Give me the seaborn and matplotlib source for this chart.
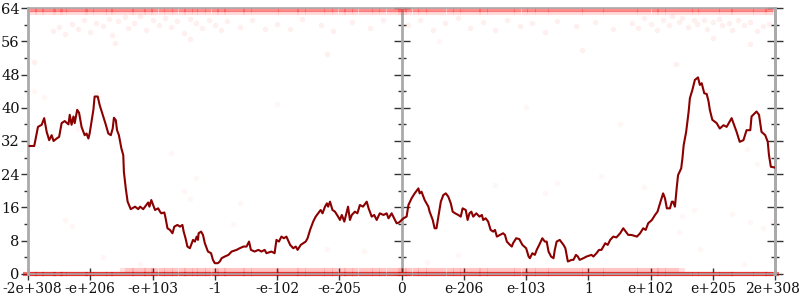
import numpy as np
import pandas as pd
import matplotlib
matplotlib.use("Agg")
import matplotlib.pyplot as plt
import matplotlib.transforms as mtransforms
from matplotlib.ticker import MultipleLocator
import seaborn as sns

# ---------------- data ----------------
tick_pos = [-6, -5, -4, -3, -2, -1, 0, 1, 2, 3, 4, 5, 6]
tick_labels = ["-2e+308", "-e+206", "-e+103", "-1", "-e-102", "-e-205", "0",
               "e-206", "e-103", "1", "e+102", "e+205", "2e+308"]

line_x = [-5.98, -5.90, -5.84, -5.78, -5.74, -5.70, -5.66, -5.62, -5.59, -5.54, -5.50, -5.46,
          -5.41, -5.35, -5.33, -5.30, -5.27, -5.25, -5.21, -5.18, -5.14, -5.09, -5.06, -5.03,
          -5.01, -4.95, -4.93, -4.88, -4.85, -4.80, -4.75, -4.71, -4.67, -4.64, -4.62, -4.59,
          -4.57, -4.54, -4.50, -4.47, -4.46, -4.43, -4.40, -4.35, -4.28, -4.23, -4.20, -4.15,
          -4.07, -4.05, -4.02, -3.99, -3.96, -3.91, -3.88, -3.86, -3.81, -3.79, -3.76, -3.72,
          -3.68, -3.65, -3.60, -3.56, -3.52, -3.50, -3.47, -3.44, -3.40, -3.37, -3.35, -3.32,
          -3.29, -3.27, -3.26, -3.22, -3.19, -3.16, -3.11, -3.06, -3.03, -3.00, -2.95, -2.92,
          -2.89, -2.84, -2.78, -2.73, -2.65, -2.60, -2.54, -2.49, -2.45, -2.42, -2.36, -2.30,
          -2.25, -2.20, -2.17, -2.09, -2.04, -2.01, -1.97, -1.93, -1.89, -1.85, -1.79, -1.74,
          -1.70, -1.67, -1.62, -1.58, -1.54, -1.51, -1.47, -1.45, -1.42, -1.38, -1.34, -1.30,
          -1.27, -1.23, -1.20, -1.18, -1.15, -1.11, -1.07, -1.02, -0.99, -0.96, -0.92, -0.88,
          -0.86, -0.83, -0.80, -0.75, -0.71, -0.67, -0.62, -0.56, -0.53, -0.48, -0.44, -0.40,
          -0.35, -0.29, -0.24, -0.21, -0.16, -0.08, -0.04, 0.03, 0.08, 0.11, 0.16, 0.21,
          0.27, 0.29, 0.32, 0.37, 0.43, 0.45, 0.50, 0.53, 0.56, 0.59, 0.63, 0.67,
          0.71, 0.75, 0.79, 0.82, 0.86, 0.91, 0.95, 0.98, 1.03, 1.06, 1.09, 1.12,
          1.15, 1.20, 1.25, 1.29, 1.31, 1.35, 1.39, 1.43, 1.47, 1.50, 1.53, 1.58,
          1.63, 1.66, 1.69, 1.74, 1.77, 1.79, 1.84, 1.89, 1.94, 2.00, 2.04, 2.06,
          2.10, 2.14, 2.17, 2.21, 2.26, 2.30, 2.33, 2.36, 2.40, 2.44, 2.46, 2.49,
          2.54, 2.60, 2.63, 2.67, 2.73, 2.76, 2.80, 2.83, 2.86, 2.92, 2.97, 3.05,
          3.08, 3.13, 3.17, 3.21, 3.27, 3.31, 3.35, 3.40, 3.45, 3.51, 3.56, 3.60,
          3.64, 3.69, 3.78, 3.83, 3.88, 3.92, 3.96, 4.02, 4.07, 4.11, 4.15, 4.20,
          4.23, 4.26, 4.31, 4.34, 4.36, 4.39, 4.42, 4.44, 4.49, 4.51, 4.53, 4.57,
          4.61, 4.63, 4.67, 4.71, 4.76, 4.79, 4.82, 4.86, 4.90, 4.93, 4.95, 4.99,
          5.06, 5.11, 5.17, 5.22, 5.30, 5.35, 5.38, 5.43, 5.49, 5.54, 5.60, 5.62,
          5.70, 5.74, 5.78, 5.84, 5.88, 5.90, 5.93, 6.00]
line_y = [30.8, 30.8, 35.4, 35.9, 37.5, 34.2, 32.2, 33.4, 32.0, 32.6, 33.0, 36.3,
          36.8, 36.0, 38.3, 35.9, 37.9, 36.3, 39.5, 38.8, 35.4, 33.4, 33.8, 32.6,
          33.8, 39.5, 42.7, 42.7, 40.7, 38.3, 35.9, 33.8, 33.4, 35.0, 37.6, 37.0,
          34.6, 33.4, 30.2, 28.6, 24.6, 20.6, 17.4, 15.6, 16.2, 15.6, 16.2, 15.6,
          17.2, 16.2, 17.8, 16.6, 15.4, 15.8, 15.0, 14.6, 14.8, 13.4, 11.0, 10.6,
          9.8, 11.4, 11.8, 11.4, 11.8, 10.2, 8.6, 6.6, 6.2, 7.4, 8.2, 7.8,
          9.0, 8.2, 9.8, 10.2, 9.4, 7.4, 5.4, 5.0, 3.4, 2.6, 2.6, 3.0,
          3.8, 4.2, 4.6, 5.4, 5.8, 6.2, 6.6, 6.6, 7.8, 5.8, 5.4, 5.8,
          5.4, 5.8, 5.0, 5.4, 5.0, 8.2, 7.8, 9.0, 8.6, 9.0, 7.0, 6.2,
          6.6, 5.8, 7.0, 7.4, 7.8, 8.6, 10.6, 11.4, 12.6, 13.8, 14.6, 15.4,
          14.6, 16.2, 17.0, 16.2, 17.4, 15.4, 15.0, 13.8, 13.0, 14.2, 12.6, 15.0,
          16.2, 13.0, 14.2, 15.0, 14.6, 16.6, 16.2, 17.4, 15.8, 13.8, 14.2, 13.0,
          14.6, 14.2, 14.6, 13.4, 14.6, 12.2, 12.4, 13.4, 13.8, 16.6, 18.2, 19.4,
          20.6, 19.4, 19.8, 17.8, 16.2, 15.0, 13.0, 11.0, 11.0, 13.8, 17.4, 19.0,
          19.4, 18.6, 17.0, 15.0, 14.6, 14.2, 13.8, 15.8, 15.4, 13.0, 14.6, 15.0,
          13.8, 14.6, 13.8, 14.2, 13.0, 13.4, 12.6, 10.6, 10.2, 10.6, 9.0, 9.4,
          9.8, 9.4, 7.8, 7.0, 6.6, 7.4, 8.6, 8.4, 7.0, 6.2, 4.2, 3.8,
          5.0, 4.6, 5.8, 7.0, 8.6, 7.8, 7.8, 5.4, 4.2, 3.8, 5.8, 7.8,
          8.2, 7.0, 6.2, 3.0, 3.4, 3.4, 4.6, 4.2, 3.4, 3.8, 4.2, 4.6,
          4.2, 5.0, 5.8, 5.8, 7.4, 7.0, 8.2, 9.0, 8.8, 9.8, 11.0, 10.2,
          9.4, 9.4, 9.0, 9.8, 11.0, 10.6, 12.2, 13.0, 14.2, 15.0, 17.0, 19.4,
          18.2, 15.8, 15.8, 17.4, 17.4, 16.2, 21.0, 23.8, 25.4, 27.8, 31.0, 34.2,
          39.1, 42.3, 44.3, 46.7, 47.3, 45.5, 45.9, 43.5, 43.3, 41.5, 39.5, 37.1,
          36.3, 35.0, 35.8, 35.4, 37.5, 35.4, 34.2, 31.8, 32.2, 34.6, 34.6, 37.9,
          39.1, 38.3, 34.2, 33.4, 31.8, 28.6, 25.8, 25.6]

# dense bands of samples (x positions)
band_x = [-5.97, -5.85, -5.78, -5.66, -5.55, -5.49, -5.37, -5.28, -5.15, -5.06, -4.97, -4.84,
          -4.75, -4.63, -4.55, -4.41, -4.33, -4.22, -4.10, -4.02, -3.91, -3.79, -3.70, -3.58,
          -3.47, -3.39, -3.26, -3.18, -3.05, -2.93, -2.86, -2.74, -2.62, -2.51, -2.43, -2.30,
          -2.21, -2.08, -1.99, -1.87, -1.76, -1.65, -1.57, -1.44, -1.35, -1.22, -1.13, -1.01,
          -0.90, -0.81, -0.68, -0.57, -0.46, -0.37, -0.25, -0.12, -0.03, 0.06, 0.17, 0.29,
          0.38, 0.51, 0.60, 0.73, 0.84, 0.93, 1.05, 1.16, 1.27, 1.36, 1.49, 1.58,
          1.71, 1.80, 1.92, 2.04, 2.13, 2.26, 2.35, 2.47, 2.58, 2.69, 2.80, 2.92,
          3.01, 3.14, 3.23, 3.35, 3.46, 3.57, 3.68, 3.79, 3.90, 4.02, 4.13, 4.22,
          4.35, 4.44, 4.56, 4.67, 4.78, 4.87, 5.00, 5.09, 5.21, 5.32, 5.41, 5.54,
          5.63, 5.75, 5.86, 5.95]
band_top = 63.5
band_top2 = 62.9
band_bottom = 0.0
band_low = 1.0
band_low_range = (-4.5, 4.5)

# cloud near the top
cloud_x = [-5.6, -5.5, -5.4, -5.3, -5.2, -5.1, -5.0, -4.9, -4.8, -4.7, -4.65, -4.55, -4.45, -4.4,
           -4.3, -4.2, -4.1, -4.0, -3.9, -3.8, -3.7, -3.6, -3.5, -3.4, -3.3, -3.2, -3.1, -3.0,
           -2.9, -2.8, -2.6, -2.4, -2.2, -2.0, -1.8, -1.6, -1.3, -1.1, -0.8, -0.5, -0.3,
           0.1, 0.3, 0.5, 0.7, 0.9, 1.1, 1.3, 1.5, 1.7, 1.9, 2.1, 2.3, 2.5, 2.8, 3.1, 3.4,
           3.7, 3.8, 3.9, 4.0, 4.1, 4.2, 4.3, 4.35, 4.45, 4.5, 4.6, 4.7, 4.75, 4.85, 4.9,
           5.0, 5.1, 5.15, 5.25, 5.3, 5.4, 5.5, 5.6, 5.7, 5.8, 5.9,
           -5.9, -4.6, -3.4, 2.9, 5.0, 5.6, 4.4, -1.2]
cloud_y = [58.5, 59.5, 57.8, 60.2, 59.0, 61.0, 58.2, 60.5, 59.6, 61.3, 57.5, 60.8, 61.8, 59.2,
           60.4, 62.0, 58.7, 61.2, 60.0, 61.7, 59.5, 60.9, 58.0, 61.4, 60.3, 59.1, 61.0, 60.0,
           58.6, 60.8, 59.4, 61.0, 58.9, 60.2, 59.0, 61.3, 60.0, 58.5, 60.6, 59.3, 61.2,
           59.8, 61.0, 58.6, 60.3, 61.5, 59.2, 60.7, 58.8, 61.0, 59.6, 60.4, 58.3, 60.9, 59.7, 60.6, 59.0,
           60.5, 59.2, 61.5, 60.1, 58.7, 61.0, 59.8, 62.0, 60.6, 61.5, 59.4, 61.2, 60.2, 61.0, 59.0,
           60.6, 61.4, 59.8, 60.5, 58.6, 61.0, 59.9, 60.7, 58.4, 59.6, 60.2,
           51.0, 55.5, 56.5, 54.0, 56.8, 55.3, 50.5, 53.0]

# sparse samples in the middle
sparse_x = [-5.9, -5.75, -4.9, -5.2, -3.7, -3.3, -3.5, -5.4, -5.3, -4.2, -4.8, -3.4, -2.6, -2.7,
            -1.3, -1.2, -0.6, -0.3, 0.4, 0.9, 1.5, 2.3, 2.5, 3.2, 3.9, 4.45, 4.5, 4.7, 5.3,
            5.6, 5.8, 4.8, 5.5, 5.95, 3.5, 5.7, 4.9, 5.55, 2.0, -2.0, 0.6]
sparse_y = [44.0, 42.5, 43.5, 35.0, 29.0, 23.0, 20.0, 13.0, 11.5, 2.5, 4.2, 18.0, 17.0, 12.0,
            16.5, 6.0, 5.5, 14.5, 3.0, 4.5, 21.5, 19.5, 22.0, 23.5, 21.0, 10.0, 14.0, 15.5, 14.5,
            12.6, 11.0, 6.0, 2.5, 12.5, 36.0, 26.5, 44.0, 30.0, 40.2, 40.8, 56.0]

# ---------------- plotting ----------------
sns.set_theme(style="white")
plt.rcParams["font.family"] = ["DejaVu Serif"]

fig = plt.figure(figsize=(8, 3), dpi=100)
ax = fig.add_axes([0.035, 0.0867, 0.934, 0.8866])

red = "#ff0000"
bx = np.array(band_x)
low_mask = (bx >= band_low_range[0]) & (bx <= band_low_range[1])

# dense sample bands drawn as short overlapping dashes
dash = dict(marker="_", s=90, linewidths=3, legend=False, zorder=2)
sns.scatterplot(x=band_x, y=[band_top] * len(band_x), ax=ax, color=red, alpha=0.25, **dash)
sns.scatterplot(x=band_x, y=[band_top2] * len(band_x), ax=ax, color=red, alpha=0.07, **dash)
sns.scatterplot(x=band_x, y=[band_bottom] * len(band_x), ax=ax, color="#e00000", alpha=0.55,
                clip_on=False, **dash)
sns.scatterplot(x=bx[low_mask], y=[band_low] * int(low_mask.sum()), ax=ax, color=red,
                alpha=0.12, **dash)

dots = dict(s=16, linewidth=0, legend=False, zorder=2)
sns.scatterplot(x=cloud_x, y=cloud_y, ax=ax, color=red, alpha=0.06, **dots)
sns.scatterplot(x=sparse_x, y=sparse_y, ax=ax, color=red, alpha=0.035, **dots)

df = pd.DataFrame({"x": line_x, "y": line_y})
sns.lineplot(data=df, x="x", y="y", ax=ax, sort=False, estimator=None,
             color="#8b0000", linewidth=1.5, zorder=4)

ax.set_xlim(-6, 6)
ax.set_ylim(0, 64)
ax.set_xlabel("")
ax.set_ylabel("")
ax.set_xticks(tick_pos)
ax.set_xticklabels(tick_labels)
ax.yaxis.set_major_locator(MultipleLocator(8))
ax.yaxis.set_minor_locator(MultipleLocator(4))

spine_gray = "#aaaaaa"
for side in ["left", "right", "top", "bottom"]:
    ax.spines[side].set_color(spine_gray)
ax.spines["left"].set_linewidth(2)
ax.spines["right"].set_linewidth(2)
ax.spines["top"].set_linewidth(1.2)
ax.spines["bottom"].set_linewidth(1.2)

ax.tick_params(axis="y", which="major", direction="out", length=5, width=1, color="#333333",
               labelsize=10.5, pad=1, left=True, right=False)
ax.tick_params(axis="y", which="minor", direction="out", length=3, width=1, color="#333333",
               left=True, right=False)
ax.tick_params(axis="x", which="major", direction="inout", length=8, width=1, color="#333333",
               labelsize=10, pad=2, bottom=True)
xlabs = ax.get_xticklabels()
for lab in xlabs + ax.get_yticklabels():
    lab.set_color("#111111")
# keep the two outermost x labels inside the canvas
xlabs[0].set_transform(xlabs[0].get_transform() +
                       mtransforms.ScaledTranslation(4 / 100, 0, fig.dpi_scale_trans))
xlabs[-1].set_transform(xlabs[-1].get_transform() +
                        mtransforms.ScaledTranslation(-3 / 100, 0, fig.dpi_scale_trans))

# secondary y axis: ticks on the centre line (x = 0) and on the right edge
ax2 = ax.twinx()
ax2.set_ylim(0, 64)
ax2.yaxis.set_major_locator(MultipleLocator(8))
ax2.yaxis.set_minor_locator(MultipleLocator(4))
ax2.spines["left"].set_position(("data", 0))
ax2.spines["left"].set_color(spine_gray)
ax2.spines["left"].set_linewidth(2)
ax2.spines["right"].set_color(spine_gray)
ax2.spines["right"].set_linewidth(2)
ax2.spines["top"].set_visible(False)
ax2.spines["bottom"].set_visible(False)
ax2.tick_params(axis="y", which="both", left=True, right=True, labelleft=False,
                labelright=False, direction="inout", color="#333333", width=1)
ax2.tick_params(axis="y", which="major", length=11)
ax2.tick_params(axis="y", which="minor", length=6)
ax2.grid(False)
ax.set_zorder(ax2.get_zorder() + 1)
ax.patch.set_visible(False)

fig.savefig("out.png", dpi=100, facecolor="white")
